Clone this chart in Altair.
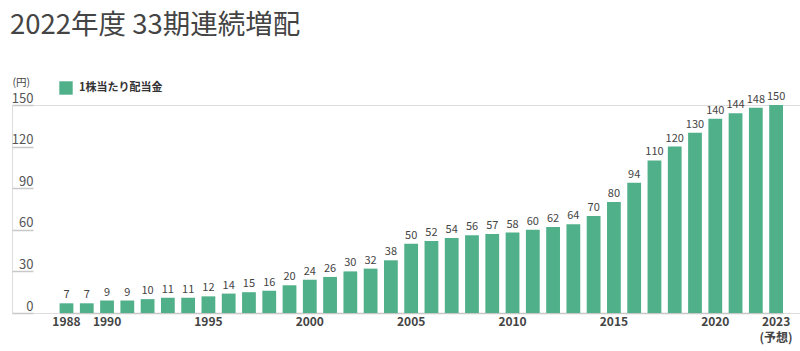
import altair as alt
import pandas as pd

years = [1988, 1989, 1990, 1991, 1992, 1993, 1994, 1995, 1996, 1997, 1998, 1999,
         2000, 2001, 2002, 2003, 2004, 2005, 2006, 2007, 2008, 2009, 2010, 2011,
         2012, 2013, 2014, 2015, 2016, 2017, 2018, 2019, 2020, 2021, 2022, 2023]
dividends = [7, 7, 9, 9, 10, 11, 11, 12, 14, 15, 16, 20,
             24, 26, 30, 32, 38, 50, 52, 54, 56, 57, 58, 60,
             62, 64, 70, 80, 94, 110, 120, 130, 140, 144, 148, 150]
shown_years = [1988, 1990, 1995, 2000, 2005, 2010, 2015, 2020]
y_ticks = [0, 30, 60, 90, 120, 150]
series_name = "1株当たり配当金"

df = pd.DataFrame({"year": years, "value": dividends, "series": series_name})

FONT = "Noto Sans CJK JP"
GREEN = "#50b08a"

label_expr = (
    "datum.value == 2023 ? ['2023', '(予想)'] : "
    "(indexof([" + ",".join(str(y) for y in shown_years) + "], datum.value) >= 0 ? datum.label : '')"
)

x_enc = alt.X(
    "year:O",
    scale=alt.Scale(paddingInner=0.32, paddingOuter=0, range=[47.6, 771]),
    axis=alt.Axis(
        title=None, ticks=False, labelAngle=0, labelPadding=3,
        labelExpr=label_expr, labelFont=FONT, labelFontSize=12,
        labelFontWeight="bold", labelColor="#444", labelLineHeight=16,
        domainColor="#c8c8c8", domainWidth=1.5, labelOverlap=False,
    ),
)

y_enc = alt.Y(
    "value:Q",
    scale=alt.Scale(domain=[0, 150], nice=False),
    axis=alt.Axis(
        values=y_ticks, grid=False, domain=False, offset=-21,
        tickSize=21, tickColor="#c8c8c8", tickWidth=1.5,
        labelPadding=-21, labelAlign="right", labelBaseline="alphabetic",
        labelOffset=-3, labelFont=FONT, labelFontSize=13, labelColor="#555",
        title="(円)", titleAngle=0, titleX=-21, titleY=-23, titleAlign="left",
        titleBaseline="middle", titleFont=FONT, titleFontSize=10.5,
        titleFontWeight="normal", titleColor="#444",
    ),
)

bars = alt.Chart(df).mark_bar(color=GREEN).encode(
    x=x_enc,
    y=y_enc,
    color=alt.Color(
        "series:N",
        scale=alt.Scale(range=[GREEN]),
        legend=alt.Legend(
            title=None, orient="none", legendX=47, legendY=-24,
            symbolType="square", symbolSize=180, symbolStrokeWidth=0,
            labelFont=FONT, labelFontSize=11, labelFontWeight="bold",
            labelColor="#333", padding=0, labelOffset=6,
        ),
    ),
)

texts = alt.Chart(df).mark_text(
    baseline="bottom", dy=-3, font=FONT, fontSize=11, color="#444"
).encode(
    x=alt.X("year:O"),
    y=alt.Y("value:Q"),
    text=alt.Text("value:Q"),
)

chart = (
    alt.layer(bars, texts)
    .properties(
        width=788, height=208,
        autosize=alt.AutoSizeParams(type="none"),
        padding={"left": 12, "top": 105, "right": 0, "bottom": 38},
        title=alt.TitleParams(
            "2022年度 33期連続増配", anchor="start", frame="group",
            font=FONT, fontSize=27.5, fontWeight="normal", color="#444",
            offset=38, dx=-2,
        ),
    )
    .configure_view(stroke=None)
    .configure(background="white")
)

chart.save("out.html", embed_options={"renderer": "svg", "actions": False})
